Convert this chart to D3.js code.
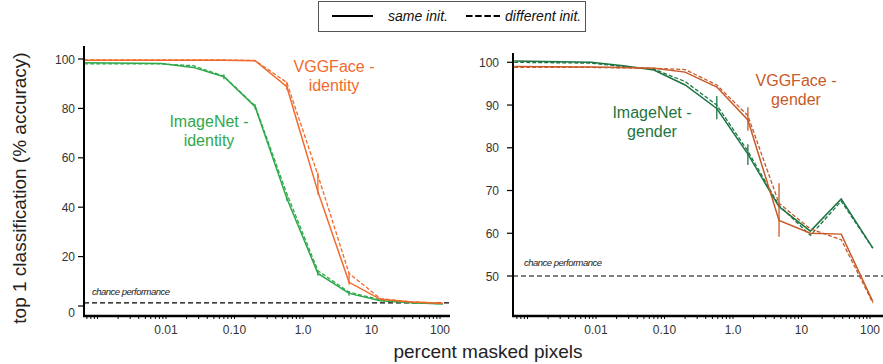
<!DOCTYPE html>
<html><head><meta charset="utf-8">
<script src="https://cdn.jsdelivr.net/npm/d3@7"></script>
<style>body{margin:0;background:#fff}svg{display:block}text{font-family:"Liberation Sans",Arial,Helvetica,sans-serif}</style>
</head><body><svg id="c" width="883" height="364"></svg>
<script>
// ---------- data ----------
const xPct = [0.00064, 0.0085, 0.025, 0.07, 0.2, 0.58, 1.65, 4.7, 13.5, 38, 110];
const xTickVals = [0.01, 0.1, 1, 10, 100];
const xTickLabels = ["0.01", "0.10", "1.0", "10", "100"];
const yTicksLeft = [0, 20, 40, 60, 80, 100];
const yTicksRight = [50, 60, 70, 80, 90, 100];

const imagenetIdSame = [98.5, 98.2, 96.6, 92.8, 80.7, 43.6, 13.2, 5.1, 2.1, 1.3, 0.8];
const imagenetIdDiff = [98.0, 98.0, 97.3, 93.0, 81.0, 45.5, 14.3, 5.6, 2.5, 1.4, 0.9];
const vggIdSame = [99.5, 99.5, 99.5, 99.5, 99.3, 88.8, 46.3, 9.6, 2.7, 1.6, 1.1];
const vggIdDiff = [99.6, 99.6, 99.6, 99.6, 99.4, 90.5, 53.0, 13.2, 3.0, 1.7, 1.1];
const chanceIdentity = 1.3;

const imagenetGenSame = [100.3, 100.0, 99.2, 98.2, 94.7, 89.2, 78.5, 66.2, 60.5, 68.0, 56.5];
const imagenetGenDiff = [100.0, 99.8, 99.0, 98.4, 95.5, 90.0, 79.2, 66.5, 59.5, 67.5, 56.5];
const vggGenSame = [99.0, 98.9, 98.8, 98.6, 97.7, 94.2, 86.5, 63.0, 60.0, 59.8, 44.0];
const vggGenDiff = [98.8, 98.8, 98.7, 98.6, 98.3, 94.7, 87.5, 67.0, 61.0, 58.5, 43.7];
const chanceGender = 50;

// error bars: [x, low, high]
const errImagenetGen = [[0.58, 86.7, 92.1], [1.65, 76.0, 80.8]];
const errVggGen = [[1.65, 84.0, 89.5], [4.7, 59.2, 71.7]];
const errImagenetId = [[0.07, 91.8, 93.8], [0.2, 79.7, 81.7], [0.58, 42.6, 44.6], [1.65, 12.2, 14.2], [4.7, 4.1, 6.1]];
const errVggId = [[0.58, 87.6, 90.8], [1.65, 45.0, 54.0], [4.7, 8.6, 13.6]];

// ---------- drawing ----------
const svg = d3.select("#c");
const dec = 68.5;

function panel(cfg) {
  const g = svg.append("g");
  const x = d3.scaleLog()
    .domain([Math.pow(10, -2 - (cfg.x01 - cfg.x0) / dec), Math.pow(10, 2 + (cfg.x1 - cfg.x01 - 4 * dec) / dec)])
    .range([cfg.x0, cfg.x1]);
  const y = d3.scaleLinear().domain(cfg.yDom).range([cfg.yB, cfg.yT]);
  // chance line
  g.append("line").attr("x1", cfg.x0).attr("x2", cfg.chanceX2)
    .attr("y1", y(cfg.chance)).attr("y2", y(cfg.chance))
    .attr("stroke", "#000").attr("stroke-width", 1.2).attr("stroke-dasharray", "5,3");
  g.append("text").attr("x", cfg.chanceTx).attr("y", y(cfg.chance) - cfg.chanceDy)
    .attr("font-size", 9.5).attr("font-style", "italic").attr("letter-spacing", -0.5)
    .attr("fill", "#222").text("chance performance");
  const line = d3.line().x((d, i) => x(xPct[i])).y(d => y(d));
  cfg.series.forEach(s => {
    g.append("path").datum(s.vals).attr("d", line).attr("fill", "none")
      .attr("stroke", s.color).attr("stroke-width", s.dash ? 1.3 : 1.5)
      .attr("stroke-dasharray", s.dash ? "4,2" : null);
  });
  cfg.errs.forEach(e => {
    e.data.forEach(d => {
      g.append("line").attr("x1", x(d[0])).attr("x2", x(d[0]))
        .attr("y1", y(d[1])).attr("y2", y(d[2])).attr("stroke", e.color).attr("stroke-width", 1.3);
    });
  });
  // axes
  const xAxisY = cfg.yAxisBottom;
  const minors = [];
  for (let p = -4; p <= 2; p++) for (let m = 1; m <= 9; m++) {
    const v = m * Math.pow(10, p);
    if (x(v) >= cfg.x0 + 1 && x(v) <= cfg.x1) minors.push(v);
  }
  g.selectAll(null).data(minors).enter().append("line")
    .attr("x1", d => x(d)).attr("x2", d => x(d))
    .attr("y1", xAxisY).attr("y2", xAxisY + 3).attr("stroke", "#000").attr("stroke-width", 1);
  g.append("line").attr("x1", cfg.x0 - 1).attr("x2", cfg.x1).attr("y1", xAxisY).attr("y2", xAxisY)
    .attr("stroke", "#000").attr("stroke-width", 2.5);
  g.append("line").attr("x1", cfg.x0).attr("x2", cfg.x0).attr("y1", cfg.yAxisTop).attr("y2", xAxisY + 1)
    .attr("stroke", "#000").attr("stroke-width", 2);
  xTickVals.forEach((v, i) => {
    g.append("text").attr("x", x(v)).attr("y", 334).attr("text-anchor", "middle")
      .attr("font-size", 12).attr("fill", "#333").text(xTickLabels[i]);
  });
  cfg.yTicks.forEach(v => {
    g.append("line").attr("x1", cfg.x0 - 6).attr("x2", cfg.x0).attr("y1", y(v)).attr("y2", y(v))
      .attr("stroke", "#000").attr("stroke-width", 1.2);
    g.append("text").attr("x", cfg.x0 - cfg.labOff).attr("y", y(v) + 4.5 + (v === 0 ? 6 : 0))
      .attr("text-anchor", "end").attr("font-size", 12).attr("fill", "#333").text(v);
  });
  cfg.labels.forEach(l => {
    const t = g.append("text").attr("x", l.x).attr("y", l.y).attr("text-anchor", "middle")
      .attr("font-size", 16).attr("fill", l.color);
    l.lines.forEach((s, i) => t.append("tspan").attr("x", l.x).attr("dy", i ? 19 : 0).text(s));
  });
}

const orangeL = "#f26a2b", greenL = "#2fa84a", greenR = "#1c7542", orangeR = "#c75a28";

panel({
  x0: 84, x01: 166, x1: 450, yB: 306, yT: 59, yDom: [0, 100], labOff: 9,
  yAxisTop: 46, yAxisBottom: 316, chance: chanceIdentity, chanceX2: 450, chanceTx: 92, chanceDy: 8,
  yTicks: yTicksLeft,
  series: [
    {vals: imagenetIdDiff, color: greenL, dash: true},
    {vals: imagenetIdSame, color: greenL, dash: false},
    {vals: vggIdDiff, color: orangeL, dash: true},
    {vals: vggIdSame, color: orangeL, dash: false}
  ],
  errs: [{data: errImagenetId, color: greenL}, {data: errVggId, color: orangeL}],
  labels: [
    {x: 334, y: 72, color: orangeL, lines: ["VGGFace -", "identity"]},
    {x: 209, y: 127, color: greenL, lines: ["ImageNet -", "identity"]}
  ]
});

panel({
  x0: 513, x01: 596, x1: 883, yB: 276, yT: 62.3, yDom: [50, 100], labOff: 14,
  yAxisTop: 53, yAxisBottom: 316, chance: chanceGender, chanceX2: 883, chanceTx: 524, chanceDy: 10,
  yTicks: yTicksRight,
  series: [
    {vals: imagenetGenDiff, color: greenR, dash: true},
    {vals: imagenetGenSame, color: greenR, dash: false},
    {vals: vggGenDiff, color: orangeR, dash: true},
    {vals: vggGenSame, color: orangeR, dash: false}
  ],
  errs: [{data: errImagenetGen, color: greenR}, {data: errVggGen, color: orangeR}],
  labels: [
    {x: 796, y: 86, color: orangeR, lines: ["VGGFace -", "gender"]},
    {x: 652, y: 118, color: greenR, lines: ["ImageNet -", "gender"]}
  ]
});

// axis titles
svg.append("text").attr("transform", "translate(26,188) rotate(-90)").attr("text-anchor", "middle")
  .attr("font-size", 19).attr("fill", "#222").text("top 1 classification (% accuracy)");
svg.append("text").attr("x", 488).attr("y", 358).attr("text-anchor", "middle")
  .attr("font-size", 19).attr("fill", "#222").text("percent masked pixels");

// legend
const lg = svg.append("g");
lg.append("rect").attr("x", 318.5).attr("y", 1.5).attr("width", 267).attr("height", 30)
  .attr("fill", "#fff").attr("stroke", "#555").attr("stroke-width", 1);
lg.append("line").attr("x1", 332).attr("x2", 373).attr("y1", 16).attr("y2", 16).attr("stroke", "#000").attr("stroke-width", 2);
lg.append("text").attr("x", 388).attr("y", 21).attr("font-size", 14).attr("font-style", "italic").attr("fill", "#111").text("same init.");
lg.append("line").attr("x1", 466).attr("x2", 500).attr("y1", 16).attr("y2", 16).attr("stroke", "#000").attr("stroke-width", 2).attr("stroke-dasharray", "6.5,2.7");
lg.append("text").attr("x", 505).attr("y", 21).attr("font-size", 14).attr("font-style", "italic").attr("fill", "#111").text("different init.");
</script></body></html>
